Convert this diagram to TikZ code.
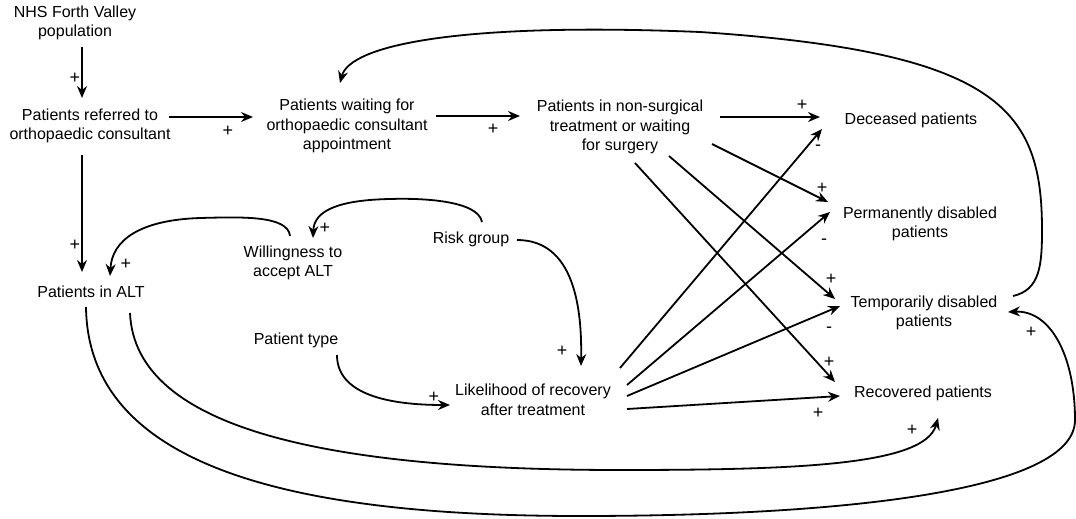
\documentclass[tikz,border=0pt]{standalone}
\usepackage{fontspec}
\setmainfont{Liberation Sans}
\usetikzlibrary{arrows.meta}
\begin{document}
\begin{tikzpicture}[x=1pt,y=-1pt,
  lbl/.style={align=center,inner sep=0pt,font=\fontsize{16}{19.5}\selectfont},
  sgn/.style={inner sep=0pt,font=\fontsize{18}{18}\selectfont},
  arr/.style={line width=1.8pt,-{Stealth[length=12pt,width=10pt,inset=4pt]}}]
\useasboundingbox (0,0) rectangle (1076,519);
% nodes
\node[lbl] (nhs) at (75,23) {NHS Forth Valley\\population};
\node[lbl] (ref) at (90,126) {Patients referred to\\orthopaedic consultant};
\node[lbl] (wait) at (347,126) {Patients waiting for\\orthopaedic consultant\\appointment};
\node[lbl] (nonsurg) at (620,127) {Patients in non-surgical\\treatment or waiting\\for surgery};
\node[lbl] (dec) at (911,120) {Deceased patients};
\node[lbl] (perm) at (920,224) {Permanently disabled\\patients};
\node[lbl] (temp) at (924,313) {Temporarily disabled\\patients};
\node[lbl] (rec) at (923,393) {Recovered patients};
\node[lbl] (alt) at (91,292) {Patients in ALT};
\node[lbl] (will) at (293,263) {Willingness to\\accept ALT};
\node[lbl] (risk) at (471,239) {Risk group};
\node[lbl] (ptype) at (296,340) {Patient type};
\node[lbl] (like) at (533,400) {Likelihood of recovery\\after treatment};
% straight connectors
\draw[arr] ([shift={(7,24)}]nhs.center) -- ([shift={(-8,-28)}]ref.center);
\draw[arr] ([shift={(79,-9)}]ref.center) -- ([shift={(-94,-9)}]wait.center);
\draw[arr] ([shift={(89,-10)}]wait.center) -- ([shift={(-100,-11)}]nonsurg.center);
\draw[arr] ([shift={(100,-10)}]nonsurg.center) -- ([shift={(-91,-3)}]dec.center);
\draw[arr] ([shift={(92,17)}]nonsurg.center) -- ([shift={(-92,-22)}]perm.center);
\draw[arr] ([shift={(49,29)}]nonsurg.center) -- ([shift={(-89,-14)}]temp.center);
\draw[arr] ([shift={(15,36)}]nonsurg.center) -- ([shift={(-88,-11)}]rec.center);
\draw[arr] ([shift={(87,-32)}]like.center) -- ([shift={(-89,9)}]dec.center);
\draw[arr] ([shift={(94,-15)}]like.center) -- ([shift={(-90,-12)}]perm.center);
\draw[arr] ([shift={(94,-4)}]like.center) -- ([shift={(-84,-7)}]temp.center);
\draw[arr] ([shift={(94,9)}]like.center) -- ([shift={(-83,3)}]rec.center);
\draw[arr] ([shift={(-8,29)}]ref.center) -- ([shift={(-9,-20)}]alt.center);
% curved connectors
\draw[arr] ([shift={(89,-17)}]temp.center) .. controls (1040,290) and (1042,265) .. (1042,230)
  .. controls (1042,110) and (1000,52) .. (700,32)
  .. controls (460,22) and (350,45) .. ([shift={(-7,-43)}]wait.center);
\draw[arr] ([shift={(-5,15)}]alt.center) .. controls (88,470) and (300,516) .. (580,516)
  .. controls (850,516) and (1075,490) .. (1075,420)
  .. controls (1075,355) and (1050,310) .. ([shift={(84,-1)}]temp.center);
\draw[arr] ([shift={(39,21)}]alt.center) .. controls (135,430) and (330,470) .. (620,470)
  .. controls (800,470) and (925,465) .. ([shift={(15,25)}]rec.center);
\draw[arr] ([shift={(-3,-27)}]will.center) .. controls (288,215) and (240,217) .. (200,218)
  .. controls (140,220) and (112,240) .. ([shift={(19,-16)}]alt.center);
\draw[arr] ([shift={(11,-17)}]risk.center) .. controls (478,200) and (420,198) .. (390,199)
  .. controls (340,200) and (314,210) .. ([shift={(20,-25)}]will.center);
\draw[arr] ([shift={(46,1)}]risk.center) .. controls (575,240) and (582,310) .. ([shift={(48,-34)}]like.center);
\draw[arr] ([shift={(41,15)}]ptype.center) .. controls (337,395) and (390,405) .. ([shift={(-83,5)}]like.center);
% polarity signs
\node[sgn] (s1) at (75,78) {+};
\node[sgn] (s2) at (228,131) {+};
\node[sgn] (s3) at (493,129) {+};
\node[sgn] (s4) at (802,105) {+};
\node[sgn] (s5) at (818,148) {-};
\node[sgn] (s6) at (822,188) {+};
\node[sgn] (s7) at (824,242) {-};
\node[sgn] (s8) at (831,279) {+};
\node[sgn] (s9) at (829,330) {-};
\node[sgn] (s10) at (829,362) {+};
\node[sgn] (s11) at (818,413) {+};
\node[sgn] (s12) at (912,430) {+};
\node[sgn] (s13) at (1031,332) {+};
\node[sgn] (s14) at (75,245) {+};
\node[sgn] (s15) at (126,264) {+};
\node[sgn] (s16) at (325,228) {+};
\node[sgn] (s17) at (562,351) {+};
\node[sgn] (s18) at (434,397) {+};
\end{tikzpicture}
\end{document}
